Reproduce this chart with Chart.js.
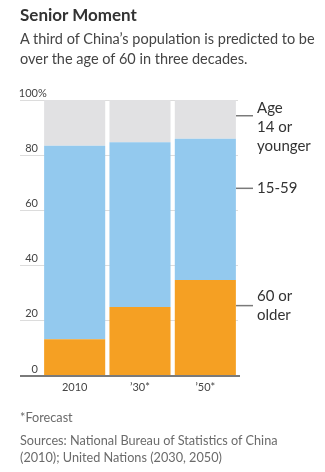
<!DOCTYPE html>
<html>
<head>
<meta charset="utf-8">
<script src="https://cdn.jsdelivr.net/npm/chart.js@4"></script>
<style>
    html, body { margin: 0; padding: 0; background: #fff; }
    body { width: 325px; height: 472px; position: relative; overflow: hidden; font-family: Lato, "Open Sans", sans-serif; color: #333; }
    #chart { position: absolute; left: 0; top: 0; }
    .txt { position: absolute; left: 20px; white-space: nowrap; }
    #title { top: 4px; font-size: 17px; font-weight: bold; color: #333; }
    #subtitle { top: 29px; font-size: 14.5px; line-height: 20px; color: #444; }
    #note { top: 409px; font-size: 12.7px; color: #6b6b6b; }
    #source { top: 432px; font-size: 12.7px; line-height: 17px; color: #6b6b6b; }
</style>
</head>
<body>
<canvas id="chart" width="325" height="472"></canvas>
<div class="txt" id="title">Senior Moment</div>
<div class="txt" id="subtitle">A third of China’s population is predicted to be<br>over the age of 60 in three decades.</div>
<div class="txt" id="note">*Forecast</div>
<div class="txt" id="source">Sources: National Bureau of Statistics of China<br>(2010); United Nations (2030, 2050)</div>
<script>
    // -----------------------------
    // Data (percent of population)
    // -----------------------------
    const years = ['2010', '’30*', '’50*'];
    const age60Plus = [13.3, 25.0, 34.8];
    const age15to59 = [70.1, 59.7, 51.2];
    const age0to14 = [16.6, 15.3, 14.0];
    const yTicks = [0, 20, 40, 60, 80, 100];

    const COLORS = {
        old: '#f5a023',
        mid: '#93c9ee',
        young: '#e1e1e3',
        grid: '#dcdcdc',
        base: '#7a7a7a',
        text: '#444'
    };
    const FONT = 'Lato, "Open Sans", sans-serif';

    // -----------------------------
    // Plugins
    // -----------------------------
    const axisLabels = {
        id: 'axisLabels',
        afterDraw(chart) {
            const { ctx, scales: { x, y } } = chart;
            ctx.save();
            ctx.font = '11px ' + FONT;
            ctx.fillStyle = COLORS.text;
            ctx.textBaseline = 'middle';
            yTicks.forEach(v => {
                const py = y.getPixelForValue(v) - 7;
                ctx.textAlign = 'right';
                ctx.fillText(String(v), 38, py);
                if (v === 100) {
                    ctx.textAlign = 'left';
                    ctx.fillText('%', 38, py);
                }
            });
            ctx.textAlign = 'center';
            const by = y.getPixelForValue(0) + 11;
            years.forEach((label, i) => ctx.fillText(label, x.getPixelForValue(i), by));
            ctx.restore();
        }
    };

    const baseline = {
        id: 'baseline',
        afterDatasetsDraw(chart) {
            const { ctx, chartArea, scales: { y } } = chart;
            const py = y.getPixelForValue(0);
            ctx.save();
            ctx.strokeStyle = COLORS.base;
            ctx.lineWidth = 2;
            ctx.beginPath();
            ctx.moveTo(20, py);
            ctx.lineTo(chartArea.right + 2, py);
            ctx.stroke();
            ctx.restore();
        }
    };

    // right-hand labels with short leader lines
    const sideLabels = {
        id: 'sideLabels',
        afterDraw(chart) {
            const { ctx, chartArea, scales: { y } } = chart;
            const items = [
                { at: 94.3, lines: ['Age', '14 or', 'younger'], first: true },
                { at: 68, lines: ['15-59'] },
                { at: 25.5, lines: ['60 or', 'older'] }
            ];
            ctx.save();
            ctx.font = '15px ' + FONT;
            ctx.fillStyle = '#333';
            ctx.strokeStyle = COLORS.base;
            ctx.lineWidth = 1.5;
            ctx.textAlign = 'left';
            ctx.textBaseline = 'middle';
            items.forEach(item => {
                const py = y.getPixelForValue(item.at);
                ctx.beginPath();
                ctx.moveTo(chartArea.right - 2, py);
                ctx.lineTo(chartArea.right + 15, py);
                ctx.stroke();
                const lh = 19;
                let top = item.first ? py - 8 : py - (item.lines.length - 1) * lh / 2;
                item.lines.forEach((t, i) => ctx.fillText(t, chartArea.right + 19, top + i * lh));
            });
            ctx.restore();
        }
    };

    // -----------------------------
    // Chart
    // -----------------------------
    new Chart(document.getElementById('chart'), {
        type: 'bar',
        data: {
            labels: years,
            datasets: [
                { label: '60 or older', data: age60Plus, backgroundColor: COLORS.old },
                { label: '15-59', data: age15to59, backgroundColor: COLORS.mid },
                { label: 'Age 14 or younger', data: age0to14, backgroundColor: COLORS.young }
            ]
        },
        options: {
            responsive: false,
            animation: false,
            layout: { padding: { top: 100, right: 87, left: 20, bottom: 76 } },
            datasets: { bar: { barPercentage: 1, categoryPercentage: 0.935, borderWidth: 0 } },
            plugins: { legend: { display: false }, tooltip: { enabled: false } },
            scales: {
                x: {
                    stacked: true,
                    grid: { display: false },
                    border: { display: false },
                    ticks: { display: false },
                    afterFit(scale) { scale.height = 20; }
                },
                y: {
                    stacked: true,
                    min: 0,
                    max: 100,
                    ticks: { stepSize: 20, display: false },
                    border: { display: false },
                    grid: { color: COLORS.grid, tickColor: COLORS.grid, tickLength: 22, lineWidth: 1 },
                    afterFit(scale) { scale.width = 22; }
                }
            }
        },
        plugins: [axisLabels, baseline, sideLabels]
    });
</script>
</body>
</html>
